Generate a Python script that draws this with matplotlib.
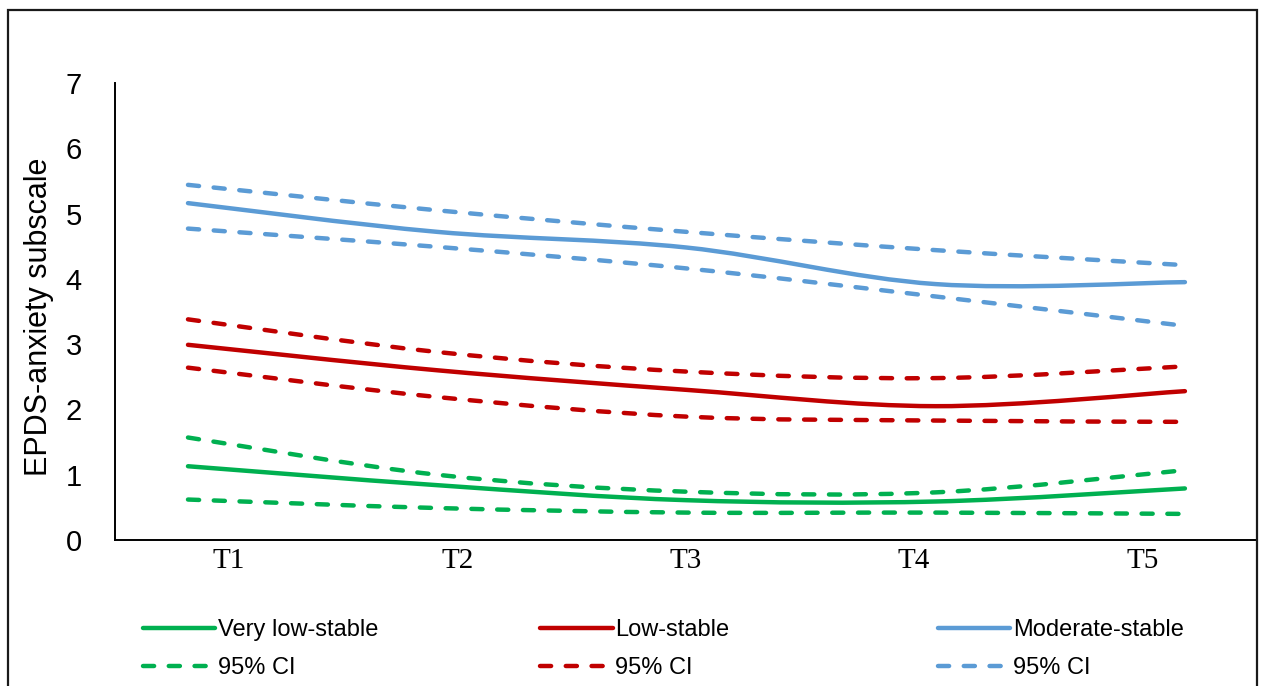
import numpy as np
import matplotlib
matplotlib.use('Agg')
import matplotlib.pyplot as plt
from matplotlib.path import Path
from matplotlib.patches import PathPatch, Rectangle
from matplotlib.lines import Line2D

plt.rcParams['font.family'] = ['Liberation Sans', 'DejaVu Sans']

# Data
times = ['T1', 'T2', 'T3', 'T4', 'T5']
very_low = [1.13, 0.84, 0.61, 0.59, 0.79]
very_low_hi = [1.57, 1.00, 0.74, 0.73, 1.07]
very_low_lo = [0.62, 0.49, 0.42, 0.42, 0.40]
low = [2.99, 2.60, 2.30, 2.05, 2.28]
low_hi = [3.38, 2.88, 2.58, 2.48, 2.66]
low_lo = [2.64, 2.19, 1.89, 1.83, 1.81]
moderate = [5.16, 4.72, 4.48, 3.92, 3.95]
moderate_hi = [5.44, 5.05, 4.72, 4.44, 4.21]
moderate_lo = [4.77, 4.49, 4.16, 3.73, 3.28]

GREEN = '#00B050'
RED = '#C00000'
BLUE = '#5B9BD5'
LW = 3.2
DASH = (0, (2.5, 3.3))


def smooth_path(y):
    # Excel-like smoothed line: cubic Bezier through each point
    x = np.arange(len(y), dtype=float)
    pts = np.column_stack([x, np.asarray(y, dtype=float)])
    n = len(pts)
    verts = [pts[0]]
    codes = [Path.MOVETO]
    for i in range(n - 1):
        p0 = pts[max(i - 1, 0)]
        p1 = pts[i]
        p2 = pts[i + 1]
        p3 = pts[min(i + 2, n - 1)]
        c1 = p1 + (p2 - p0) / 6.0
        c2 = p2 - (p3 - p1) / 6.0
        verts += [c1, c2, p2]
        codes += [Path.CURVE4] * 3
    return Path(verts, codes)


def draw(ax, y, color, dashed=False):
    patch = PathPatch(smooth_path(y), fill=False, edgecolor=color, lw=LW,
                      capstyle='round', joinstyle='round')
    if dashed:
        patch.set_linestyle(DASH)
    ax.add_patch(patch)


fig = plt.figure(figsize=(12.62, 6.86), dpi=100)
ax = fig.add_axes([0.0911, 0.2128, 0.9045, 0.6662])

for solid, hi, lo, color in [(very_low, very_low_hi, very_low_lo, GREEN),
                             (low, low_hi, low_lo, RED),
                             (moderate, moderate_hi, moderate_lo, BLUE)]:
    draw(ax, hi, color, dashed=True)
    draw(ax, lo, color, dashed=True)
    draw(ax, solid, color)

ax.set_xlim(-0.293, 4.287)
ax.set_ylim(0, 7)
ax.set_yticks(range(8))
ax.tick_params(axis='y', length=0, pad=24, labelsize=21)
ax.set_xticks([])
ax.set_ylabel('EPDS-anxiety subscale', fontsize=22)
ax.yaxis.set_label_coords(-0.0535, 0.488)
for s in ['top', 'right']:
    ax.spines[s].set_visible(False)
ax.spines['left'].set_linewidth(1.4)
ax.spines['bottom'].set_linewidth(1.4)

# category axis for the labels (between-tick style like Excel)
cat = ax.twiny()
cat.set_xlim(0, len(times))
cat.set_xticks(np.arange(len(times)) + 0.5)
cat.set_xticklabels(times, family='Liberation Serif', fontsize=21)
cat.xaxis.set_ticks_position('bottom')
cat.xaxis.set_label_position('bottom')
cat.tick_params(axis='x', length=0, pad=6)
for s in cat.spines.values():
    s.set_visible(False)

# legend, three columns of two rows
cols = [('Very low-stable', GREEN, 0.113), ('Low-stable', RED, 0.428),
        ('Moderate-stable', BLUE, 0.743)]
for name, color, xpos in cols:
    h = [Line2D([], [], color=color, lw=LW, solid_capstyle='round'),
         Line2D([], [], color=color, lw=LW, ls=DASH, dash_capstyle='round')]
    leg = fig.legend(h, [name, '95% CI'], loc='upper left',
                     bbox_to_anchor=(xpos - 0.0072, 0.111), bbox_transform=fig.transFigure,
                     frameon=False, fontsize=17, handlelength=3.05,
                     handletextpad=0.12, labelspacing=0.68, borderaxespad=0)
    leg.set_in_layout(False)

# chart border
fig.add_artist(Rectangle((0.0065, -0.02), 0.9897, 1.005, transform=fig.transFigure,
                         fill=False, edgecolor='#1a1a1a', lw=1.6))

fig.savefig('out.png', dpi=100)
